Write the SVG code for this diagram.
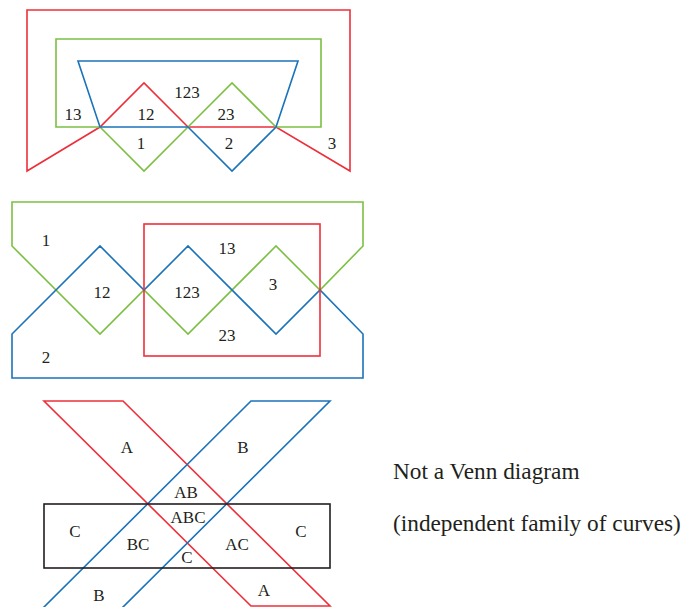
<svg xmlns="http://www.w3.org/2000/svg" width="683" height="607" viewBox="0 0 683 607">
  <style>
    .c { fill: none; stroke-width: 1.6; stroke-linejoin: miter; }
    .r { stroke: #ee2f3a; }
    .g { stroke: #7cc043; }
    .b { stroke: #1b73ba; }
    .k { stroke: #231f20; }
    text { font-family: "Liberation Serif", "Times New Roman", serif; fill: #231f20; }
    .lbl { font-size: 17px; text-anchor: middle; }
    .note { font-size: 23.3px; }
  </style>
  <rect width="683" height="607" fill="#ffffff"/>

  <!-- Three-set diagram with triangles and trapezoid -->
  <g id="venn-a">
    <g id="venn-a-curves">
      <polygon class="c r" points="27,10 350,10 350,171 276,127 188,127 144,83 100,127 27,171"/>
      <polygon class="c g" points="56,39 321,39 321,127 276,127 232,83 188,127 144,171 100,127 56,127"/>
      <polygon class="c b" points="78,61 298,61 276,127 232,171 188,127 100,127"/>
    </g>
    <g id="venn-a-labels">
      <text class="lbl" x="187" y="98">123</text>
      <text class="lbl" x="73" y="120">13</text>
      <text class="lbl" x="146" y="120">12</text>
      <text class="lbl" x="226" y="120">23</text>
      <text class="lbl" x="141" y="149">1</text>
      <text class="lbl" x="229" y="149">2</text>
      <text class="lbl" x="332" y="149">3</text>
    </g>
  </g>

  <!-- Three-set diagram with zigzag bands and a rectangle -->
  <g id="venn-b">
    <g id="venn-b-curves">
      <polygon class="c g" points="12,202 363,202 363,246 320,290 276,246 188,334 144,290 100,334 12,246"/>
      <polygon class="c b" points="12,378 363,378 363,334 320,290 276,334 188,246 144,290 100,246 12,334"/>
      <rect class="c r" x="144" y="224" width="176" height="132"/>
    </g>
    <g id="venn-b-labels">
      <text class="lbl" x="46" y="246">1</text>
      <text class="lbl" x="227" y="254">13</text>
      <text class="lbl" x="102" y="298">12</text>
      <text class="lbl" x="187" y="298">123</text>
      <text class="lbl" x="273" y="290">3</text>
      <text class="lbl" x="227" y="341">23</text>
      <text class="lbl" x="46" y="363">2</text>
    </g>
  </g>

  <!-- Crossing parallelograms and a rectangle -->
  <g id="family-c">
    <g id="family-c-curves">
      <polygon class="c r" points="44,401 123,401 330,606 251,606"/>
      <polygon class="c b" points="251,401 330,401 116,614 37,614"/>
      <rect class="c k" x="44" y="504" width="286" height="64"/>
    </g>
    <g id="family-c-labels">
      <text class="lbl" x="127" y="453">A</text>
      <text class="lbl" x="243" y="453">B</text>
      <text class="lbl" x="186" y="498">AB</text>
      <text class="lbl" x="188" y="523">ABC</text>
      <text class="lbl" x="75" y="537">C</text>
      <text class="lbl" x="301" y="537">C</text>
      <text class="lbl" x="138" y="550">BC</text>
      <text class="lbl" x="237" y="550">AC</text>
      <text class="lbl" x="187" y="563">C</text>
      <text class="lbl" x="99" y="601">B</text>
      <text class="lbl" x="264" y="596">A</text>
    </g>
  </g>

  <g id="caption">
    <text class="note" x="393" y="479">Not a Venn diagram</text>
    <text class="note" x="393" y="531">(independent family of curves)</text>
  </g>
</svg>
